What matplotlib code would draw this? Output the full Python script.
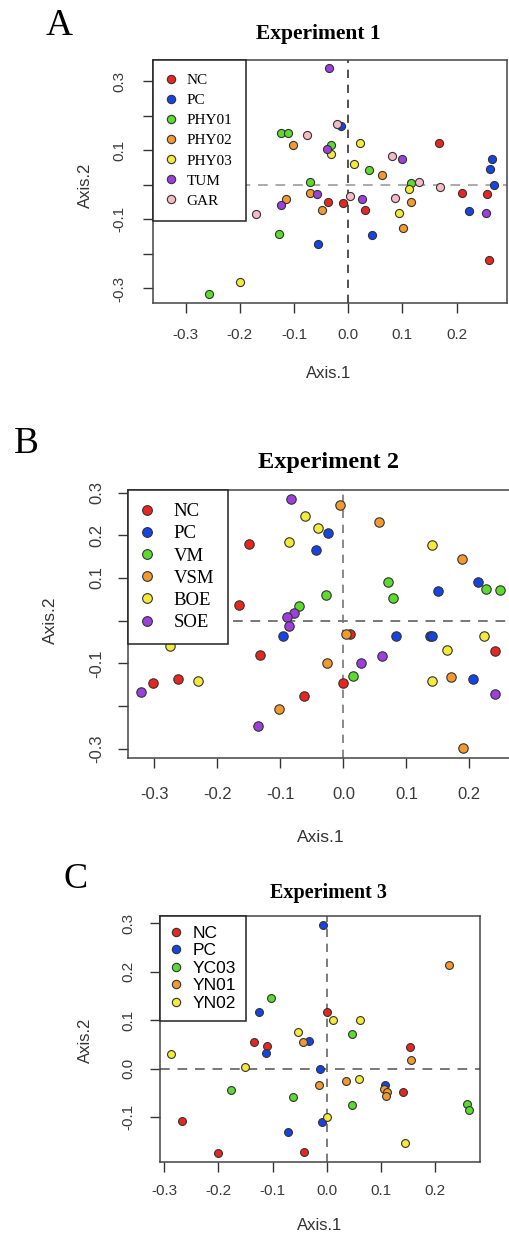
import matplotlib.pyplot as plt
from matplotlib.lines import Line2D

plt.rcParams['font.family'] = ['Liberation Sans', 'DejaVu Sans']

W, H = 509, 1234

# Experiment 1 scores, (Axis.1, Axis.2)
e1_nc = [(0.167, 0.120), (0.210, -0.025), (0.256, -0.028), (-0.038, -0.051),
         (-0.010, -0.054), (0.031, -0.073), (0.259, -0.218)]
e1_pc = [(-0.013, 0.170), (0.266, 0.076), (0.261, 0.045), (0.269, -0.001),
         (0.223, -0.077), (-0.055, -0.170), (0.044, -0.144)]
e1_phy01 = [(-0.123, 0.151), (-0.111, 0.151), (-0.031, 0.115), (0.038, 0.043),
            (-0.070, 0.009), (0.116, 0.004), (-0.128, -0.141), (-0.256, -0.317)]
e1_phy02 = [(-0.101, 0.115), (0.062, 0.028), (-0.071, -0.023), (-0.115, -0.041),
            (-0.049, -0.073), (0.116, -0.049), (0.101, -0.125)]
e1_phy03 = [(-0.032, 0.089), (0.021, 0.122), (0.011, 0.060), (0.112, -0.012),
            (0.094, -0.082), (-0.199, -0.280)]
e1_tum = [(-0.036, 0.337), (-0.039, 0.103), (0.100, 0.074), (-0.058, -0.028),
          (-0.123, -0.059), (0.025, -0.042), (0.255, -0.083)]
e1_gar = [(-0.020, 0.176), (-0.076, 0.144), (0.081, 0.083), (0.130, 0.009),
          (0.170, -0.006), (0.004, -0.032), (0.086, -0.038), (-0.170, -0.085)]

# Experiment 2
e2_nc = [(-0.150, 0.179), (-0.165, 0.037), (-0.133, -0.081), (0.000, -0.147),
         (-0.302, -0.147), (-0.263, -0.138), (-0.063, -0.177), (0.011, -0.031),
         (0.240, -0.072)]
e2_pc = [(-0.024, 0.205), (-0.044, 0.165), (-0.096, -0.035), (0.150, 0.070),
         (0.214, 0.090), (0.083, -0.035), (0.137, -0.037), (0.141, -0.037),
         (0.206, -0.136)]
e2_vm = [(-0.027, 0.059), (-0.070, 0.035), (0.071, 0.091), (0.226, 0.074),
         (0.249, 0.071), (0.079, 0.052), (0.016, -0.129)]
e2_vsm = [(-0.005, 0.270), (-0.026, -0.100), (-0.103, -0.208), (0.056, 0.231),
          (0.189, 0.144), (0.004, -0.031), (0.171, -0.132), (0.190, -0.298)]
e2_boe = [(-0.061, 0.245), (-0.041, 0.218), (-0.087, 0.184), (-0.276, -0.060),
          (-0.231, -0.141), (0.141, 0.177), (0.223, -0.037), (0.164, -0.068),
          (0.141, -0.142)]
e2_soe = [(-0.083, 0.285), (-0.079, 0.018), (-0.090, 0.008), (-0.087, -0.013),
          (-0.321, -0.168), (-0.136, -0.248), (0.061, -0.082), (0.028, -0.099),
          (0.241, -0.172)]

# Experiment 3
e3_nc = [(0.000, 0.117), (-0.134, 0.056), (-0.111, 0.047), (0.154, 0.044),
         (0.141, -0.048), (-0.268, -0.107), (-0.200, -0.174), (-0.042, -0.172)]
e3_pc = [(-0.007, 0.297), (-0.125, 0.118), (-0.032, 0.058), (-0.113, 0.032),
         (-0.012, -0.001), (0.108, -0.034), (-0.009, -0.109), (-0.071, -0.131)]
e3_yc03 = [(-0.103, 0.145), (0.046, 0.071), (-0.177, -0.043), (-0.062, -0.059),
           (0.047, -0.074), (0.259, -0.072), (0.263, -0.085)]
e3_yn01 = [(-0.044, 0.055), (0.225, 0.214), (0.155, 0.019), (0.035, -0.025),
           (-0.015, -0.033), (0.105, -0.041), (0.111, -0.048), (0.110, -0.056)]
e3_yn02 = [(-0.287, 0.031), (0.011, 0.101), (0.062, 0.100), (-0.054, 0.075),
           (-0.151, 0.003), (0.059, -0.021), (0.001, -0.100), (0.145, -0.153)]

red, blue, green = '#e8261f', '#1444e4', '#5bdb2e'
orange, yellow, purple, pink = '#f29a30', '#f4ea3a', '#9b40dc', '#f6b9c6'

x_ticks = [-0.3, -0.2, -0.1, 0.0, 0.1, 0.2]


def box(left, top, right, bottom):
    # pixel box -> figure fraction rect
    return [left / W, 1 - bottom / H, (right - left) / W, (bottom - top) / H]


def fmt(v):
    return '%.1f' % (0.0 if abs(v) < 1e-9 else v)


def draw_panel(ax, groups, labels, colors, size, xlim, ylim, yticks, ylabels,
               tick_fs, xpad, ypad, vcol, hcol, leg_font, leg_fs, ms, leg_kw):
    for pts, c in zip(groups, colors):
        ax.scatter([p[0] for p in pts], [p[1] for p in pts], s=size, c=c,
                   edgecolors='#333333', linewidths=0.8, zorder=3)
    ax.axvline(0, color=vcol, ls=(0, (5, 4)), lw=1.2, zorder=1)
    ax.axhline(0, color=hcol, ls=(0, (5, 4)), lw=1.4, zorder=1)
    ax.set_xlim(*xlim)
    ax.set_ylim(*ylim)
    ax.set_xticks(x_ticks)
    ax.set_xticklabels([fmt(v) for v in x_ticks])
    ax.set_yticks(yticks)
    ax.set_yticklabels(ylabels, rotation=90, va='center')
    ax.tick_params(length=7, width=1.0, color='#333333', labelcolor='#3a3a3a',
                   labelsize=tick_fs)
    ax.tick_params(axis='x', pad=xpad)
    ax.tick_params(axis='y', pad=ypad)
    for sp in ax.spines.values():
        sp.set_color('#444444')
        sp.set_linewidth(1.1)
    handles = [Line2D([], [], ls='', marker='o', markerfacecolor=c,
                      markeredgecolor='#333333', markeredgewidth=0.8,
                      markersize=ms) for c in colors]
    leg = ax.legend(handles, labels, loc='upper left', bbox_to_anchor=(0, 1),
                    borderaxespad=0, fancybox=False, framealpha=1,
                    edgecolor='#222222', prop={'family': leg_font, 'size': leg_fs},
                    **leg_kw)
    leg.get_frame().set_linewidth(1.1)
    leg.set_zorder(5)


fig = plt.figure(figsize=(W / 100, H / 100), dpi=100)

# ---- A ----
axA = fig.add_axes(box(153, 60, 507, 303))
yt = [-0.3, -0.2, -0.1, 0.0, 0.1, 0.2, 0.3]
draw_panel(axA, [e1_nc, e1_pc, e1_phy01, e1_phy02, e1_phy03, e1_tum, e1_gar],
           ['NC', 'PC', 'PHY01', 'PHY02', 'PHY03', 'TUM', 'GAR'],
           [red, blue, green, orange, yellow, purple, pink], 34,
           (-0.360, 0.293), (-0.342, 0.361), yt,
           ['-0.3', '', '-0.1', '', '0.1', '', '0.3'], 11, 11, 12,
           '#333333', '#aaaaaa', 'Liberation Serif', 11, 6,
           dict(borderpad=0.88, labelspacing=0.42, handlelength=0.55,
                handletextpad=0.78))

# ---- B ----
axB = fig.add_axes(box(128, 490, 516, 758))
axB.spines['right'].set_visible(False)
draw_panel(axB, [e2_nc, e2_pc, e2_vm, e2_vsm, e2_boe, e2_soe],
           ['NC', 'PC', 'VM', 'VSM', 'BOE', 'SOE'],
           [red, blue, green, orange, yellow, purple], 46,
           (-0.342, 0.274), (-0.322, 0.306), yt,
           ['-0.3', '', '-0.1', '', '0.1', '0.2', '0.3'], 12, 14, 10,
           '#777777', '#777777', 'Liberation Serif', 13.5, 7,
           dict(borderpad=0.7, labelspacing=0.27, handlelength=0.6,
                handletextpad=1.15))

# ---- C ----
axC = fig.add_axes(box(160, 916, 480, 1162))
draw_panel(axC, [e3_nc, e3_pc, e3_yc03, e3_yn01, e3_yn02],
           ['NC', 'PC', 'YC03', 'YN01', 'YN02'],
           [red, blue, green, orange, yellow], 32,
           (-0.308, 0.283), (-0.192, 0.315), [-0.1, 0.0, 0.1, 0.2, 0.3],
           ['-0.1', '0.0', '0.1', '0.2', '0.3'], 11, 9, 11,
           '#666666', '#777777', 'Liberation Sans', 12.5, 6,
           dict(borderpad=0.55, labelspacing=0.14, handlelength=0.8,
                handletextpad=0.52))


def ftext(x, y, s, **kw):
    fig.text(x / W, 1 - y / H, s, ha='center', va='center', **kw)


serif = 'Liberation Serif'
ftext(59, 26, 'A', family=serif, fontsize=27)
ftext(318, 34, 'Experiment 1', family=serif, fontsize=15.5, weight='bold')
ftext(329, 373, 'Axis.1', fontsize=12, color='#333333')
ftext(85, 185, 'Axis.2', fontsize=12, color='#333333', rotation=90)

ftext(26, 444, 'B', family=serif, fontsize=27)
ftext(329, 463, 'Experiment 2', family=serif, fontsize=17.5, weight='bold')
ftext(321, 838, 'Axis.1', fontsize=12.5, color='#333333')
ftext(50, 620, 'Axis.2', fontsize=12.5, color='#333333', rotation=90)

ftext(76, 879, 'C', family=serif, fontsize=26)
ftext(329, 893, 'Experiment 3', family=serif, fontsize=14.5, weight='bold')
ftext(320, 1226, 'Axis.1', fontsize=12, color='#333333')
ftext(85, 1040, 'Axis.2', fontsize=12, color='#333333', rotation=90)

fig.savefig('out.png', dpi=100)
